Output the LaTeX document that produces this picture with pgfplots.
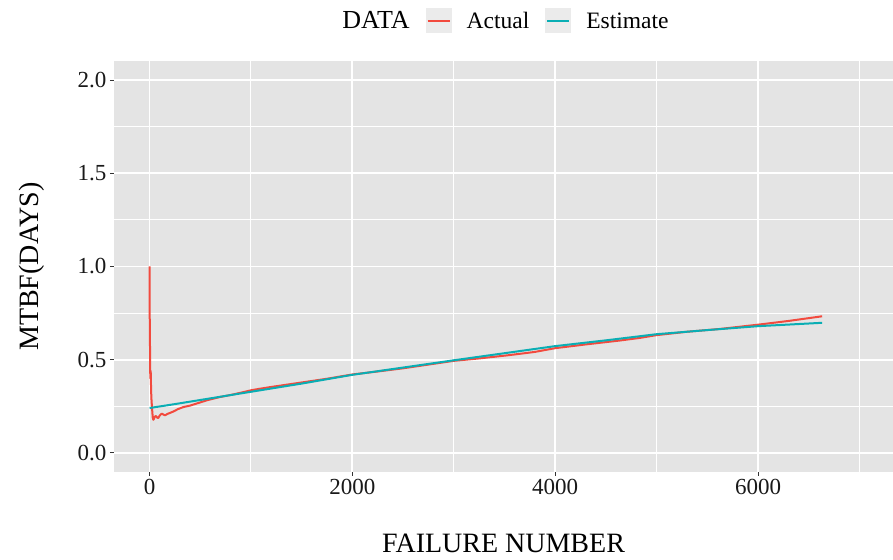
\documentclass[border=0pt]{standalone}
\usepackage{pgfplots}
\pgfplotsset{compat=1.18}
\usepackage{fontspec}
\setmainfont{Liberation Serif}
\definecolor{panelgrey}{HTML}{E4E4E4}
\definecolor{keygrey}{HTML}{EBEBEB}
\definecolor{ggred}{HTML}{F24A3E}
\definecolor{ggteal}{HTML}{0AAEB4}
\begin{document}
\begin{tikzpicture}
\begin{axis}[
  at={(114pt,87.4pt)}, anchor=south west,
  scale only axis, width=779pt, height=410.2pt,
  xmin=-350, xmax=7330, ymin=-0.1, ymax=2.1,
  xtick={0,2000,4000,6000}, ytick={0,0.5,1,1.5,2},
  minor xtick={1000,3000,5000,7000}, minor ytick={0.25,0.75,1.25,1.75},
  xticklabels={0,2000,4000,6000}, yticklabels={0.0,0.5,1.0,1.5,2.0},
  grid=both,
  major grid style={white, line width=1.8pt},
  minor grid style={white, line width=0.9pt},
  axis background/.style={fill=panelgrey},
  axis line style={draw=none},
  tick align=outside, major tick length=4pt, minor tick length=0pt,
  tick style={color=black!80, line width=1pt},
  xtick pos=bottom, ytick pos=left,
  ticklabel style={font=\fontsize{23}{27}\selectfont, text=black!90},
  /pgf/number format/assume math mode=true,
  xlabel={FAILURE NUMBER}, ylabel={MTBF(DAYS)},
  label style={font=\fontsize{28}{33}\selectfont},
  xlabel style={at={(axis description cs:0.5,-0.176)}, anchor=center},
  ylabel style={at={(axis description cs:-0.105,0.5)}, anchor=center, rotate=0},
  legend columns=3,
  legend style={at={(axis description cs:0.4942,1.0985)}, anchor=center,
    draw=none, fill=none, font=\fontsize{23.5}{28}\selectfont,
    /tikz/every even column/.append style={column sep=14pt},
    /tikz/every odd column/.append style={column sep=13pt}},
  legend image code/.code={
    \fill[keygrey,draw=none] (0pt,-12.5pt) rectangle (26pt,12.5pt);
    \draw[line width=1.2pt] (2pt,0pt) -- (24pt,0pt);},
]
\addlegendimage{empty legend}
\addlegendentry{\fontsize{26}{30}\selectfont DATA}
\addplot[ggred, line width=2pt, line join=round] coordinates {
(1,1.0)(2,0.75)(3,0.68)(4,0.60)(5,0.57)(6,0.50)(7,0.44)(8,0.40)(10,0.43)(12,0.44)(14,0.38)(18,0.30)(25,0.24)(32,0.19)(38,0.178)(45,0.185)(52,0.195)(64,0.198)(75,0.19)(86,0.187)(100,0.20)(120,0.211)(140,0.205)(153,0.202)(180,0.21)(235,0.222)(280,0.235)(333,0.246)(400,0.254)(465,0.265)(563,0.282)(695,0.30)(800,0.311)(892,0.322)(1000,0.336)(1072,0.343)(1200,0.354)(1350,0.366)(1500,0.378)(1750,0.398)(2000,0.421)(2250,0.437)(2500,0.454)(2750,0.474)(3000,0.494)(3250,0.507)(3520,0.523)(3700,0.535)(3800,0.542)(4000,0.562)(4300,0.582)(4637,0.603)(4834,0.617)(5000,0.632)(5300,0.650)(5623,0.665)(6000,0.688)(6300,0.708)(6631,0.733)
};
\addlegendentry{Actual}
\addplot[ggteal, line width=2pt, line join=round] coordinates {
(1,0.241)(250,0.262)(500,0.284)(750,0.306)(1000,0.328)(1500,0.372)(2000,0.419)(2500,0.458)(3000,0.497)(3500,0.535)(4000,0.573)(4500,0.604)(5000,0.637)(5500,0.659)(6000,0.680)(6631,0.698)
};
\addlegendentry{Estimate}
\end{axis}
\pgfresetboundingbox
\useasboundingbox (0,0) rectangle (893pt,559pt);
\end{tikzpicture}
\end{document}
